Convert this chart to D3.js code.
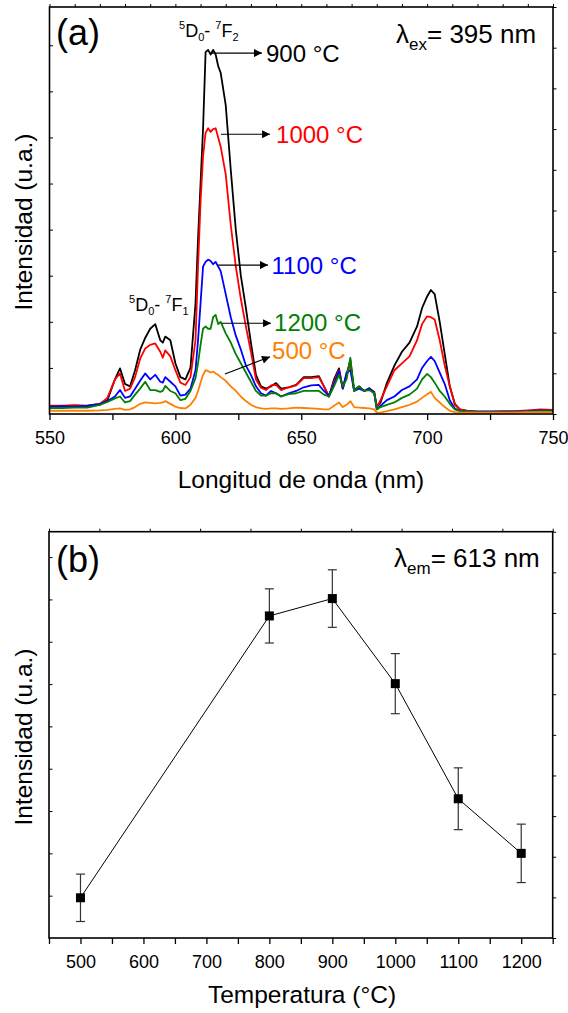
<!DOCTYPE html>
<html>
<head>
<meta charset="utf-8">
<script src="https://cdn.jsdelivr.net/npm/d3@7"></script>
<style>
  html, body { margin: 0; padding: 0; background: #fff; }
  svg { display: block; font-family: "Liberation Sans", Arial, Helvetica, sans-serif; }
</style>
</head>
<body>
<svg id="chart" width="568" height="1013"></svg>
<script>
// ---------- Panel (a): emission spectra ----------
const wavelength = [550,555,560,565,570,573,576,578,580,582,584,586,588,590,592,594,595,596,598,600,602,604,606,608,609,610,611,612,613,614,615,616,617,618,620,622,624,626,628,630,632,634,636,638,640,642,645,648,651,654,657,659,661,663,665,666.5,668,669.5,671,673,675,677,679,680,681.5,684,687,690,693,696,698,700,701.5,703,705,707,709,711,713,716,720,725,730,735,740,745,750];

const spec900 = [0.17,0.17,0.18,0.17,0.2,0.3,0.75,0.99,0.65,0.6,0.95,1.39,1.65,1.85,1.95,1.6,1.55,1.68,1.6,1.1,0.8,0.75,1.0,2.4,3.8,5.0,6.2,7.85,7.9,7.8,7.9,7.8,7.55,7.4,6.7,5.3,4.0,3.0,2.3,1.55,0.85,0.6,0.55,0.6,0.67,0.55,0.58,0.63,0.8,0.8,0.82,0.6,0.38,0.75,0.99,0.56,0.85,1.17,0.52,0.6,0.5,0.56,0.48,0.16,0.25,0.67,1.05,1.35,1.55,1.9,2.3,2.55,2.69,2.6,2.0,1.3,0.6,0.22,0.1,0.07,0.05,0.05,0.05,0.05,0.06,0.08,0.08];
const spec1000 = [0.18,0.18,0.19,0.18,0.22,0.35,0.75,0.88,0.5,0.55,0.8,1.2,1.42,1.5,1.53,1.35,1.22,1.38,1.25,0.95,0.68,0.63,0.8,1.6,3.2,4.6,5.6,6.1,6.2,6.12,6.18,6.2,6.0,5.8,5.2,4.1,3.2,2.5,1.9,1.35,0.75,0.57,0.52,0.62,0.63,0.52,0.58,0.62,0.78,0.78,0.8,0.6,0.38,0.7,0.95,0.55,0.82,1.1,0.5,0.58,0.5,0.55,0.45,0.15,0.3,0.6,0.95,1.1,1.25,1.6,1.95,2.12,2.1,2.05,1.6,1.05,0.6,0.2,0.1,0.07,0.05,0.05,0.06,0.06,0.08,0.1,0.09];
const spec1100 = [0.16,0.17,0.16,0.18,0.22,0.28,0.38,0.52,0.35,0.38,0.55,0.72,0.88,0.75,0.85,0.7,0.68,0.8,0.7,0.6,0.4,0.42,0.55,0.95,1.6,2.4,3.2,3.3,3.35,3.32,3.25,3.3,3.2,3.1,2.6,2.1,1.7,1.4,1.05,0.85,0.6,0.45,0.4,0.5,0.45,0.38,0.45,0.5,0.58,0.62,0.63,0.5,0.4,0.65,0.93,0.55,0.9,0.95,0.5,0.55,0.5,0.55,0.45,0.1,0.18,0.3,0.38,0.52,0.6,0.75,1.0,1.15,1.24,1.15,0.9,0.65,0.3,0.12,0.07,0.05,0.05,0.05,0.05,0.05,0.06,0.08,0.07];
const spec1200 = [0.13,0.13,0.14,0.14,0.2,0.26,0.34,0.38,0.25,0.28,0.42,0.55,0.7,0.52,0.52,0.48,0.5,0.61,0.5,0.45,0.3,0.33,0.5,0.78,1.1,1.5,1.85,1.9,1.85,1.85,2.1,2.15,1.95,2.0,1.75,1.55,1.3,1.1,0.9,0.7,0.5,0.4,0.4,0.45,0.45,0.38,0.43,0.45,0.5,0.5,0.5,0.42,0.38,0.6,0.85,0.6,0.75,1.22,0.5,0.6,0.5,0.52,0.45,0.1,0.15,0.2,0.25,0.35,0.42,0.55,0.75,0.87,0.8,0.68,0.5,0.38,0.22,0.1,0.06,0.05,0.04,0.04,0.04,0.04,0.05,0.06,0.06];
const spec500 = [0.07,0.07,0.07,0.07,0.08,0.09,0.11,0.12,0.09,0.1,0.15,0.22,0.25,0.24,0.23,0.24,0.25,0.28,0.22,0.16,0.13,0.12,0.2,0.35,0.5,0.68,0.85,0.95,0.93,0.9,0.92,0.88,0.85,0.8,0.72,0.6,0.5,0.38,0.28,0.2,0.15,0.12,0.11,0.12,0.12,0.11,0.12,0.14,0.13,0.12,0.11,0.1,0.1,0.18,0.25,0.15,0.2,0.28,0.15,0.14,0.13,0.12,0.1,0.03,0.03,0.06,0.1,0.15,0.2,0.27,0.35,0.43,0.48,0.35,0.25,0.15,0.07,0.04,0.03,0.03,0.03,0.03,0.03,0.03,0.04,0.04,0.04];

const seriesLabels = ["900 °C","1000 °C","1100 °C","1200 °C","500 °C"];
const seriesColors = ["#000000","#ff0000","#0000ff","#008000","#ff8000"];
const seriesValues = [spec900, spec1000, spec1100, spec1200, spec500];
// arrow annotations (data units): [x0, y0, x1, y1]
const arrowPts = [[614.5,7.83,634.4,7.83],[618.1,6.07,637.6,6.07],[617.0,3.23,636.8,3.23],[618.5,1.97,638.0,1.97],[619.7,0.87,637.6,1.24]];
const labelPos = [[636,7.83],[640,6.07],[638.2,3.23],[639.2,1.98],[638.4,1.375]];

const xTicksA = [550,600,650,700,750];

// ---------- Panel (b): intensity vs temperature ----------
const temperatures = [500,800,900,1000,1100,1200];
const intensity = [0.95,7.61,8.02,6.01,3.29,2.0];
const intensityErr = [0.56,0.64,0.68,0.71,0.73,0.69];
const xTicksB = [500,600,700,800,900,1000,1100,1200];

const svg = d3.select("#chart");
const FONT = '"Liberation Sans", Arial, sans-serif';

// scales
const xA = d3.scaleLinear().domain([550,750]).range([49.5,553]);
const yA = d3.scaleLinear().domain([0,8.83]).range([414,7]);
const xB = d3.scaleLinear().domain([450,1250]).range([49,552.7]);
const yB = d3.scaleLinear().domain([0,9.6]).range([938,531.7]);

// arrow marker
svg.append("defs").append("marker")
  .attr("id","arr").attr("viewBox","0 0 10 10").attr("refX",10).attr("refY",5)
  .attr("markerWidth",11).attr("markerHeight",8).attr("markerUnits","userSpaceOnUse")
  .attr("orient","auto")
  .append("path").attr("d","M0,0 L10,5 L0,10 Z").attr("fill","#000");

function frame(g, x, y, opts) {
  const [x0,x1] = x.range(), [y0,y1] = y.range();
  const bAxis = d3.axisBottom(x).tickValues(opts.bottomTicks).tickSize(6).tickFormat("");
  g.append("g").attr("transform",`translate(0,${y0})`).call(bAxis)
    .call(s => s.select(".domain").remove())
    .call(s => s.selectAll("line").attr("stroke","#000").attr("stroke-width",1.3));
  const lAxis = d3.axisBottom(x).tickValues(opts.labelTicks).tickSize(0).tickPadding(opts.labelPad).tickFormat(d3.format("d"));
  g.append("g").attr("transform",`translate(0,${y0})`).call(lAxis)
    .call(s => s.select(".domain").remove())
    .call(s => s.selectAll("text").attr("font-size",18).attr("font-family",FONT).attr("fill","#000"));
  g.append("g").attr("transform",`translate(0,${y1})`)
    .call(d3.axisTop(x).tickValues(opts.topTicks).tickSize(3).tickFormat(""))
    .call(s => s.select(".domain").remove())
    .call(s => s.selectAll("line").attr("stroke","#000").attr("stroke-width",1));
  g.append("g").attr("transform",`translate(${x0},0)`)
    .call(d3.axisRight(y).tickValues(opts.leftTicks).tickSize(3.5).tickFormat(""))
    .call(s => s.select(".domain").remove())
    .call(s => s.selectAll("line").attr("stroke","#000").attr("stroke-width",1));
  g.append("g").attr("transform",`translate(${x1},0)`)
    .call(d3.axisRight(y).tickValues(opts.rightTicks).tickSize(3.5).tickFormat(""))
    .call(s => s.select(".domain").remove())
    .call(s => s.selectAll("line").attr("stroke","#000").attr("stroke-width",1));
  g.append("rect").attr("x",x0).attr("y",y1).attr("width",x1-x0).attr("height",y0-y1)
    .attr("fill","none").attr("stroke","#000").attr("stroke-width",1.6);
}

// ---------------- Panel A ----------------
const gA = svg.append("g");
svg.append("clipPath").attr("id","clipA").append("rect")
  .attr("x",xA.range()[0]).attr("y",yA.range()[1]).attr("width",xA.range()[1]-xA.range()[0]).attr("height",yA.range()[0]-yA.range()[1]);

const lineA = d3.line().x((d,i)=>xA(wavelength[i])).y(d=>yA(d));
const linesG = gA.append("g").attr("clip-path","url(#clipA)");
seriesValues.forEach((vals,k)=>{
  linesG.append("path").datum(vals).attr("d",lineA)
    .attr("fill","none").attr("stroke",seriesColors[k]).attr("stroke-width",1.8).attr("stroke-linejoin","round");
});

frame(gA, xA, yA, {
  bottomTicks: d3.range(550,751,25),
  labelTicks: xTicksA,
  labelPad: 17,
  topTicks: d3.range(550,751,10),
  leftTicks: d3.range(1,9),
  rightTicks: d3.range(0,11).map(i=>yA.domain()[1]*i/10)
});

arrowPts.forEach((a,k)=>{
  gA.append("line").attr("x1",xA(a[0])).attr("y1",yA(a[1])).attr("x2",xA(a[2])).attr("y2",yA(a[3]))
    .attr("stroke","#000").attr("stroke-width",1.1).attr("marker-end","url(#arr)");
  gA.append("text").attr("x",xA(labelPos[k][0])).attr("y",yA(labelPos[k][1])+8.5)
    .attr("font-size",24).attr("fill",seriesColors[k]).text(seriesLabels[k]);
});

gA.append("text").attr("x",56).attr("y",45).attr("font-size",36).text("(a)");

function transition(g, x, y, sub) {
  const t = g.append("text").attr("x",x).attr("y",y).attr("font-size",18);
  t.append("tspan").attr("font-size",11).attr("dy",-8).text("5");
  t.append("tspan").attr("dy",8).text("D");
  t.append("tspan").attr("font-size",11).attr("dy",4).text("0");
  t.append("tspan").attr("dy",-4).text("- ");
  t.append("tspan").attr("font-size",11).attr("dy",-8).text("7");
  t.append("tspan").attr("dy",8).text("F");
  t.append("tspan").attr("font-size",11).attr("dy",4).text(sub);
}
transition(gA, 179, 37, "2");
transition(gA, 129, 311, "1");

function lambdaLabel(g, x, y, sub, rest) {
  const t = g.append("text").attr("x",x).attr("y",y).attr("font-size",26);
  t.append("tspan").text("λ");
  t.append("tspan").attr("font-size",17).attr("dy",7).text(sub);
  t.append("tspan").attr("dy",-7).text(rest);
}
lambdaLabel(gA, 396, 43, "ex", "= 395 nm");

gA.append("text").attr("x",301).attr("y",488).attr("text-anchor","middle").attr("font-size",24.5).text("Longitud de onda (nm)");
gA.append("text").attr("transform","translate(32,222) rotate(-90)").attr("text-anchor","middle").attr("font-size",24.5).text("Intensidad (u.a.)");

// ---------------- Panel B ----------------
const gB = svg.append("g");
frame(gB, xB, yB, {
  bottomTicks: d3.range(450,1251,50),
  labelTicks: xTicksB,
  labelPad: 17,
  topTicks: d3.range(450,1251,80),
  leftTicks: d3.range(1,10),
  rightTicks: d3.range(0,11).map(i=>yB.domain()[1]*i/10)
});

const ptsB = temperatures.map((t,i)=>({t, v:intensity[i], e:intensityErr[i]}));
gB.append("path").datum(ptsB)
  .attr("d", d3.line().x(d=>xB(d.t)).y(d=>yB(d.v)))
  .attr("fill","none").attr("stroke","#000").attr("stroke-width",1);

const eb = gB.append("g").attr("stroke","#333").attr("stroke-width",1.2);
ptsB.forEach(d=>{
  eb.append("line").attr("x1",xB(d.t)).attr("x2",xB(d.t)).attr("y1",yB(d.v+d.e)).attr("y2",yB(d.v-d.e));
  eb.append("line").attr("x1",xB(d.t)-4.5).attr("x2",xB(d.t)+4.5).attr("y1",yB(d.v+d.e)).attr("y2",yB(d.v+d.e));
  eb.append("line").attr("x1",xB(d.t)-4.5).attr("x2",xB(d.t)+4.5).attr("y1",yB(d.v-d.e)).attr("y2",yB(d.v-d.e));
});
gB.selectAll("rect.pt").data(ptsB).enter().append("rect").attr("class","pt")
  .attr("x",d=>xB(d.t)-4.5).attr("y",d=>yB(d.v)-4.5).attr("width",9).attr("height",9).attr("fill","#000");

gB.append("text").attr("x",56).attr("y",572).attr("font-size",36).text("(b)");
lambdaLabel(gB, 394, 567, "em", "= 613 nm");

gB.append("text").attr("x",302).attr("y",1003).attr("text-anchor","middle").attr("font-size",24.5).text("Temperatura (°C)");
gB.append("text").attr("transform","translate(32,737) rotate(-90)").attr("text-anchor","middle").attr("font-size",24.5).text("Intensidad (u.a.)");
</script>
</body>
</html>
